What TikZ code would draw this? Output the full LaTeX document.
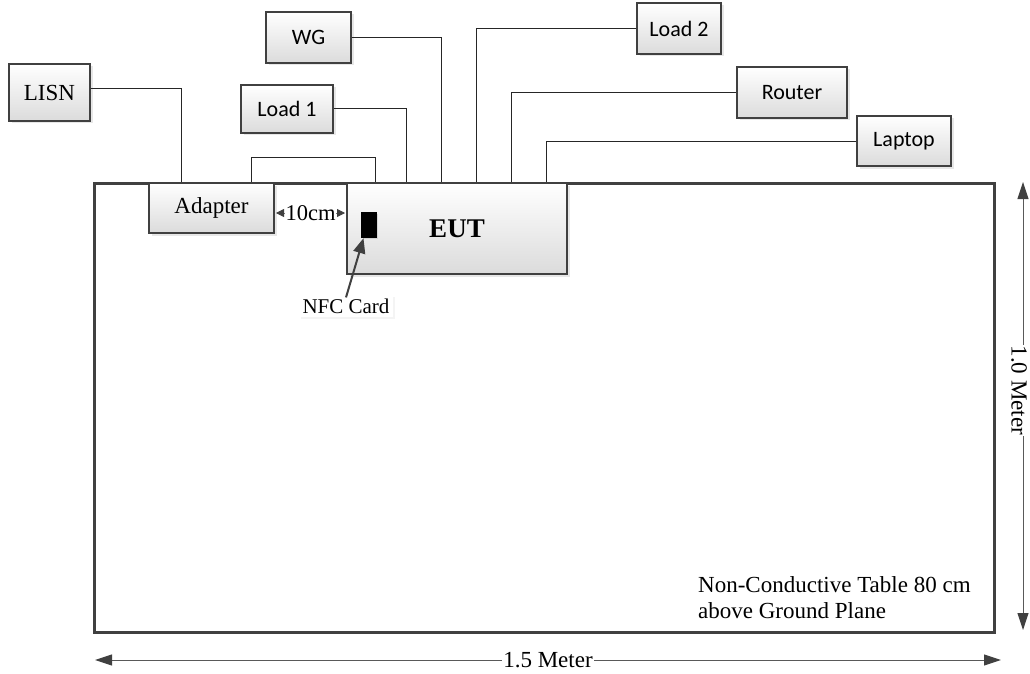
\documentclass[tikz,border=0pt]{standalone}
\usepackage{fontspec}
\setmainfont{Liberation Serif}
\newfontfamily\calfont{Carlito}
\usetikzlibrary{arrows.meta,shadows,calc}
\begin{document}
\begin{tikzpicture}[x=1pt,y=-1pt,
  dev/.style={draw=black!75, line width=2pt, top color=white, bottom color=black!14,
    drop shadow={shadow xshift=2.5pt,shadow yshift=-2.5pt,fill=black!18},
    inner sep=0pt, font=\calfont\fontsize{22}{26}\selectfont},
  sbox/.style={dev, font=\fontsize{23}{27}\selectfont},
  wire/.style={draw=black!85, line width=1pt},
  dim/.style={draw=black!65, line width=1pt, arrows={Triangle[length=17pt,width=11pt,color=black!75]-Triangle[length=17pt,width=11pt,color=black!75]}},
  lbl/.style={font=\fontsize{23}{27}\selectfont, fill=white, inner sep=1pt}
]
\useasboundingbox (0,0) rectangle (1030,674);
\fill[white] (0,0) rectangle (1030,674);

% table
\draw[draw=black!75, line width=3pt] (94,183) rectangle (994,632);
\node[anchor=north west, align=left, inner sep=0pt, font=\fontsize{23}{26}\selectfont] (tabletext) at (698,576)
  {Non-Conductive Table 80 cm\\above Ground Plane};

% devices
\node[sbox, minimum width=81pt, minimum height=57pt] (lisn) at (49.5,92.5) {LISN};
\node[dev, minimum width=92pt, minimum height=48pt] (load1) at (287,109) {Load 1};
\node[dev, minimum width=85pt, minimum height=51pt] (wg) at (308.5,37.5) {WG};
\node[dev, minimum width=84pt, minimum height=51pt] (load2) at (679,28.5) {Load 2};
\node[dev, minimum width=110pt, minimum height=51pt] (router) at (792,92.5) {Router};
\node[dev, minimum width=94pt, minimum height=50pt] (laptop) at (904,141) {Laptop};
\node[sbox, minimum width=125pt, minimum height=50pt] (adapter) at (211.5,208) {Adapter};
\node[dev, minimum width=220pt, minimum height=91pt, font=\bfseries\fontsize{27}{30}\selectfont] (eut) at (457,228.5) {EUT};
\node[draw=black, fill=black, minimum width=15pt, minimum height=25pt, inner sep=0pt,
  drop shadow={shadow xshift=1.5pt,shadow yshift=-1.5pt,fill=black!25}] (card) at (368.5,224.5) {};
\node[fill=white, inner sep=4pt, font=\fontsize{21}{25}\selectfont,
  drop shadow={shadow xshift=2pt,shadow yshift=-2pt,fill=black!8}] (nfc) at (346,306) {NFC Card};

% wires
\draw[wire] ($(lisn.east)+(0,-4)$) -| ($(adapter.north west)+(33,0)$);
\draw[wire] (load1.east) -| ($(eut.north west)+(60,0)$);
\draw[wire] (wg.east) -| ($(eut.north west)+(95,0)$);
\draw[wire] (load2.west) -| ($(eut.north west)+(130,0)$);
\draw[wire] (router.west) -| ($(eut.north west)+(165,0)$);
\draw[wire] (laptop.west) -| ($(eut.north west)+(200,0)$);
\draw[wire] ($(adapter.north west)+(103,0)$) -- ++(0,-25) -| ($(eut.north west)+(29,0)$);

% 10cm
\draw[draw=black!55, line width=0.8pt, arrows={Triangle[length=8pt,width=8pt,color=black!75]-Triangle[length=8pt,width=8pt,color=black!75]}]
  ($(adapter.east)+(1,5)$) -- ($(eut.west |- adapter.east)+(-1,5)$)
  node[midway, fill=white, inner sep=0.5pt, font=\fontsize{22.5}{26}\selectfont] (tencm) {10cm};

% NFC arrow
\draw[draw=black!75, line width=2pt, -{Triangle[length=15pt,width=12pt,color=black!75]}]
  ($(nfc.north)+(0,3)$) -- ($(card.south)+(-5,1)$);

% dimensions
\coordinate (bl) at (95,660);
\coordinate (br) at (1001,660);
\draw[dim] (bl) -- (br) node[midway, lbl] (w) {1.5 Meter};
\coordinate (rt) at (1023,182);
\coordinate (rb) at (1023,630);
\draw[dim] (rt) -- (rb);
\node[lbl, rotate=-90] (h) at ($(rt)!0.465!(rb)+(-4,0)$) {1.0 Meter};
\end{tikzpicture}
\end{document}
